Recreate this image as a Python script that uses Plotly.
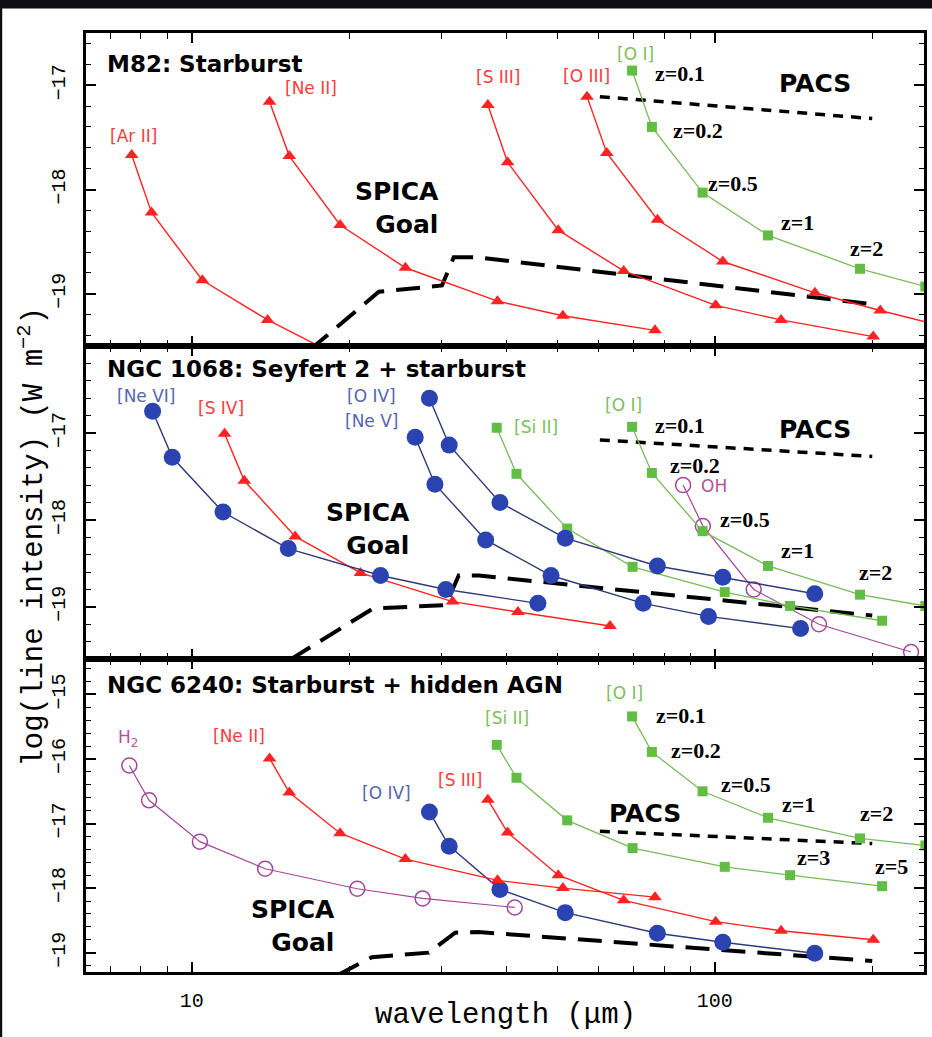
import numpy as np
import plotly.graph_objects as go
from plotly.subplots import make_subplots

# ---------------- data (wavelength in micron, log line intensity) ----------------
# Panel 1: M82
m82_ar2_x = [7.68, 8.38, 10.48, 13.97, 20.96, 27.94, 41.91]
m82_ar2_y = [-17.67, -18.22, -18.87, -19.25, -19.70, -19.95, -20.25]
m82_ne2_x = [14.09, 15.37, 19.22, 25.62, 38.43, 51.24, 76.86]
m82_ne2_y = [-17.16, -17.68, -18.34, -18.75, -19.07, -19.21, -19.35]
m82_s3_x = [36.83, 40.18, 50.22, 66.96, 100.4, 133.9, 200.9]
m82_s3_y = [-17.19, -17.74, -18.39, -18.78, -19.11, -19.25, -19.41]
m82_o3_x = [56.99, 62.17, 77.72, 103.6, 155.4, 207.2, 310.9]
m82_o3_y = [-17.11, -17.65, -18.29, -18.69, -18.99, -19.16, -19.38]
m82_o1_x = [69.50, 75.82, 94.77, 126.4, 189.5, 252.7]
m82_o1_y = [-16.86, -17.40, -18.03, -18.44, -18.76, -18.93]
m82_spica_x = [16.8, 22.8, 30.1, 31.7, 35.3, 200.0]
m82_spica_y = [-19.54, -18.98, -18.92, -18.65, -18.65, -19.10]
m82_pacs_x = [60.3, 200.0]
m82_pacs_y = [-17.11, -17.32]

# Panel 2: NGC 1068
n1068_ne6_x = [8.42, 9.18, 11.48, 15.30, 22.96, 30.61, 45.91]
n1068_ne6_y = [-16.75, -17.28, -17.91, -18.33, -18.64, -18.80, -18.96]
n1068_s4_x = [11.56, 12.61, 15.77, 21.02, 31.53, 42.04, 63.06]
n1068_s4_y = [-17.01, -17.55, -18.19, -18.61, -18.94, -19.06, -19.22]
n1068_ne5_x = [26.75, 29.18, 36.48, 48.64, 72.96, 97.28, 145.9]
n1068_ne5_y = [-17.05, -17.59, -18.23, -18.64, -18.96, -19.11, -19.25]
n1068_o4_x = [28.48, 31.07, 38.84, 51.78, 77.67, 103.6, 155.3]
n1068_o4_y = [-16.60, -17.14, -17.80, -18.21, -18.53, -18.66, -18.85]
n1068_si2_x = [38.30, 41.78, 52.23, 69.64, 104.5, 139.3, 208.9]
n1068_si2_y = [-16.94, -17.47, -18.10, -18.54, -18.83, -18.99, -19.16]
n1068_o1_x = [69.50, 75.82, 94.77, 126.4, 189.5, 252.7]
n1068_o1_y = [-16.93, -17.46, -18.13, -18.53, -18.86, -18.99]
n1068_oh_x = [87.0, 94.9, 118.7, 158.2, 237.3]
n1068_oh_y = [-17.60, -18.07, -18.80, -19.20, -19.52]
n1068_spica_x = [15.4, 22.2, 30.6, 32.4, 35.4, 200.0]
n1068_spica_y = [-19.61, -19.02, -18.98, -18.64, -18.64, -19.10]
n1068_pacs_x = [60.3, 200.0]
n1068_pacs_y = [-17.08, -17.27]

# Panel 3: NGC 6240
n6240_h2_x = [7.60, 8.29, 10.37, 13.82, 20.73, 27.64, 41.46]
n6240_h2_y = [-16.10, -16.64, -17.28, -17.70, -18.01, -18.16, -18.30]
n6240_ne2_x = [14.09, 15.37, 19.22, 25.62, 38.43, 51.24, 76.86]
n6240_ne2_y = [-15.99, -16.52, -17.15, -17.55, -17.88, -18.00, -18.14]
n6240_s3_x = [36.83, 40.18, 50.22, 66.96, 100.4, 133.9, 200.9]
n6240_s3_y = [-16.63, -17.14, -17.80, -18.19, -18.52, -18.66, -18.80]
n6240_o4_x = [28.48, 31.07, 38.84, 51.78, 77.67, 103.6, 155.3]
n6240_o4_y = [-16.82, -17.35, -18.02, -18.38, -18.70, -18.84, -19.01]
n6240_si2_x = [38.30, 41.78, 52.23, 69.64, 104.5, 139.3, 208.9]
n6240_si2_y = [-15.78, -16.29, -16.95, -17.38, -17.67, -17.80, -17.97]
n6240_o1_x = [69.50, 75.82, 94.77, 126.4, 189.5, 252.7]
n6240_o1_y = [-15.34, -15.89, -16.50, -16.91, -17.23, -17.34]
n6240_spica_x = [19.0, 22.1, 28.4, 31.9, 35.3, 200.0]
n6240_spica_y = [-19.35, -19.07, -19.00, -18.69, -18.68, -19.13]
n6240_pacs_x = [60.3, 200.0]
n6240_pacs_y = [-17.12, -17.31]

x_major_ticks = [10, 100]
x_major_labels = ["10", "100"]
x_minor_ticks = [7, 8, 9, 20, 30, 40, 50, 60, 70, 80, 90, 200]

# ---------------- styles ----------------
RED = "#ff2222"
BLUE = "#2a43b0"
BLUE_LINE = "#2e3a78"
GREEN = "#62bd44"
GREEN_LINE = "#78bb5a"
PURPLE = "#a4479c"

STYLE = {
    "red": dict(mode="lines+markers", line=dict(color=RED, width=1.4),
                marker=dict(symbol="triangle-up", size=12, color=RED)),
    "blue": dict(mode="lines+markers", line=dict(color=BLUE_LINE, width=1.4),
                 marker=dict(symbol="circle", size=17, color=BLUE)),
    "green": dict(mode="lines+markers", line=dict(color=GREEN_LINE, width=1.3),
                  marker=dict(symbol="square", size=10, color=GREEN)),
    "purple": dict(mode="lines+markers", line=dict(color=PURPLE, width=1.2),
                   marker=dict(symbol="circle-open", size=15, color=PURPLE,
                               line=dict(width=1.5, color=PURPLE))),
    "spica": dict(mode="lines", line=dict(color="black", width=4, dash="24px,12px")),
    "pacs": dict(mode="lines", line=dict(color="black", width=3.5, dash="10px,8px")),
}

fig = make_subplots(rows=3, cols=1, shared_xaxes=True, vertical_spacing=0)

def add(x, y, row, kind):
    fig.add_trace(go.Scatter(x=x, y=y, showlegend=False, hoverinfo="skip",
                             **STYLE[kind]), row=row, col=1)

# Panel 1
add(m82_spica_x, m82_spica_y, 1, "spica")
add(m82_pacs_x, m82_pacs_y, 1, "pacs")
add(m82_ar2_x, m82_ar2_y, 1, "red")
add(m82_ne2_x, m82_ne2_y, 1, "red")
add(m82_s3_x, m82_s3_y, 1, "red")
add(m82_o3_x, m82_o3_y, 1, "red")
add(m82_o1_x, m82_o1_y, 1, "green")

# Panel 2
add(n1068_spica_x, n1068_spica_y, 2, "spica")
add(n1068_pacs_x, n1068_pacs_y, 2, "pacs")
add(n1068_oh_x, n1068_oh_y, 2, "purple")
add(n1068_s4_x, n1068_s4_y, 2, "red")
add(n1068_si2_x, n1068_si2_y, 2, "green")
add(n1068_o1_x, n1068_o1_y, 2, "green")
add(n1068_ne6_x, n1068_ne6_y, 2, "blue")
add(n1068_ne5_x, n1068_ne5_y, 2, "blue")
add(n1068_o4_x, n1068_o4_y, 2, "blue")

# Panel 3
add(n6240_spica_x, n6240_spica_y, 3, "spica")
add(n6240_pacs_x, n6240_pacs_y, 3, "pacs")
add(n6240_h2_x, n6240_h2_y, 3, "purple")
add(n6240_si2_x, n6240_si2_y, 3, "green")
add(n6240_o1_x, n6240_o1_y, 3, "green")
add(n6240_o4_x, n6240_o4_y, 3, "blue")
add(n6240_ne2_x, n6240_ne2_y, 3, "red")
add(n6240_s3_x, n6240_s3_y, 3, "red")

# ---------------- axes ----------------
TICKFONT = dict(family="Liberation Mono", size=20, color="black")
for i in (1, 2, 3):
    fig.update_xaxes(
        type="log", range=[0.798, 2.4], showline=True, linecolor="black", linewidth=2.5,
        mirror="ticks", ticks="inside", ticklen=10, tickwidth=1.5, tickcolor="black",
        tickvals=x_major_ticks, ticktext=x_major_labels, showgrid=False, zeroline=False,
        minor=dict(tickvals=x_minor_ticks, ticks="inside", ticklen=6, tickwidth=1.3,
                   tickcolor="black", showgrid=False),
        tickfont=TICKFONT, showticklabels=(i == 3), ticklabelstandoff=8,
        row=i, col=1)

y_ranges = {1: [-19.5, -16.5], 2: [-19.6, -16.0], 3: [-19.3, -14.45]}
y_majors = {1: [-19, -18, -17], 2: [-19, -18, -17], 3: [-19, -18, -17, -16, -15]}
for i in (1, 2, 3):
    lo, hi = y_ranges[i]
    minors = [v for v in np.round(np.arange(-20, -14, 0.2), 1)
              if lo < v < hi and abs(v - round(v)) > 1e-6]
    fig.update_yaxes(
        range=y_ranges[i], showline=True, linecolor="black", linewidth=2.5,
        mirror="ticks", ticks="inside", ticklen=10, tickwidth=1.5, tickcolor="black",
        tickvals=y_majors[i], ticktext=["\u2212%d" % abs(v) for v in y_majors[i]],
        tickangle=-90, tickfont=TICKFONT, showgrid=False, zeroline=False,
        minor=dict(tickvals=minors, ticks="inside", ticklen=5, tickwidth=1.2,
                   tickcolor="black", showgrid=False),
        ticklabelstandoff=10, row=i, col=1)

# ---------------- annotations ----------------
TITLE = dict(family="DejaVu Sans", size=23, color="black", weight="bold")
BIG = dict(family="DejaVu Sans", size=25, color="black", weight="bold")
ZF = dict(family="Liberation Serif", size=22, color="black", weight="bold")

def lab(col):
    return dict(family="DejaVu Sans", size=17, color=col)

LRED = "#ff3b3b"
LBLUE = "#5566b0"
LGREEN = "#7cbf5c"
LPURP = "#b0559e"

ann = [
    # panel 1
    ("M82: Starburst", 0.834, -16.80, 1, TITLE, "left"),
    ("[Ar II]", 0.888, -17.49, 1, lab(LRED), "center"),
    ("[Ne II]", 1.229, -17.03, 1, lab(LRED), "center"),
    ("[S III]", 1.587, -16.92, 1, lab(LRED), "center"),
    ("[O III]", 1.754, -16.91, 1, lab(LRED), "center"),
    ("[O I]", 1.848, -16.70, 1, lab(LGREEN), "center"),
    ("z=0.1", 1.933, -16.89, 1, ZF, "center"),
    ("z=0.2", 1.968, -17.43, 1, ZF, "center"),
    ("z=0.5", 2.034, -17.94, 1, ZF, "center"),
    ("z=1", 2.158, -18.32, 1, ZF, "center"),
    ("z=2", 2.291, -18.57, 1, ZF, "center"),
    ("PACS", 2.192, -16.98, 1, BIG, "center"),
    ("SPICA<br>Goal", 1.476, -18.18, 1, BIG, "right"),
    # panel 2
    ("NGC 1068: Seyfert 2 + starburst", 0.834, -16.26, 2, TITLE, "left"),
    ("[Ne VI]", 0.914, -16.57, 2, lab(LBLUE), "center"),
    ("[S IV]", 1.057, -16.71, 2, lab(LRED), "center"),
    ("[O IV]", 1.343, -16.57, 2, lab(LBLUE), "center"),
    ("[Ne V]", 1.343, -16.86, 2, lab(LBLUE), "center"),
    ("[Si II]", 1.659, -16.93, 2, lab(LGREEN), "center"),
    ("[O I]", 1.825, -16.68, 2, lab(LGREEN), "center"),
    ("OH", 1.998, -17.61, 2, lab(LPURP), "center"),
    ("z=0.1", 1.933, -16.92, 2, ZF, "center"),
    ("z=0.2", 1.962, -17.37, 2, ZF, "center"),
    ("z=0.5", 2.057, -18.00, 2, ZF, "center"),
    ("z=1", 2.158, -18.35, 2, ZF, "center"),
    ("z=2", 2.307, -18.60, 2, ZF, "center"),
    ("PACS", 2.192, -16.96, 2, BIG, "center"),
    ("SPICA<br>Goal", 1.421, -18.11, 2, BIG, "right"),
    # panel 3
    ("NGC 6240: Starburst + hidden AGN", 0.834, -14.86, 3, TITLE, "left"),
    ("H<sub>2</sub>", 0.878, -15.68, 3, lab(LPURP), "center"),
    ("[Ne II]", 1.091, -15.64, 3, lab(LRED), "center"),
    ("[O IV]", 1.373, -16.53, 3, lab(LBLUE), "center"),
    ("[S III]", 1.514, -16.32, 3, lab(LRED), "center"),
    ("[Si II]", 1.602, -15.36, 3, lab(LGREEN), "center"),
    ("[O I]", 1.827, -14.97, 3, lab(LGREEN), "center"),
    ("z=0.1", 1.935, -15.33, 3, ZF, "center"),
    ("z=0.2", 1.964, -15.86, 3, ZF, "center"),
    ("z=0.5", 2.059, -16.39, 3, ZF, "center"),
    ("z=1", 2.160, -16.71, 3, ZF, "center"),
    ("z=2", 2.309, -16.84, 3, ZF, "center"),
    ("z=3", 2.189, -17.52, 3, ZF, "center"),
    ("z=5", 2.337, -17.67, 3, ZF, "center"),
    ("PACS", 1.867, -16.84, 3, BIG, "center"),
    ("SPICA<br>Goal", 1.278, -18.59, 3, BIG, "right"),
]

refs = {1: ("x", "y"), 2: ("x2", "y2"), 3: ("x3", "y3")}
for text, lx, yv, p, font, anchor in ann:
    xr, yr = refs[p]
    fig.add_annotation(text=text, x=lx, y=yv, xref=xr, yref=yr, showarrow=False,
                       font=font, xanchor=anchor, yanchor="middle",
                       align="right" if anchor == "right" else "left")

# axis titles
fig.add_annotation(text="wavelength (\u03bcm)", x=0.5, y=-0.046, xref="paper", yref="paper",
                   showarrow=False, xanchor="center", yanchor="middle",
                   font=dict(family="Liberation Mono", size=29, color="black"))
fig.add_annotation(text="log(line intensity) (W m<sup>\u22122</sup>)", x=-0.064, y=0.463,
                   xref="paper", yref="paper", showarrow=False, textangle=-90,
                   xanchor="center", yanchor="middle",
                   font=dict(family="Liberation Mono", size=29, color="black"))

# dark frame remnants of the scanned figure
fig.add_shape(type="rect", xref="paper", yref="paper", x0=-0.11, x1=1.01, y0=1.026, y1=1.05,
              fillcolor="#0d0d12", line=dict(width=0), layer="above")
fig.add_shape(type="rect", xref="paper", yref="paper", x0=-0.11, x1=-0.1, y0=-0.08, y1=1.05,
              fillcolor="#0d0d12", line=dict(width=0), layer="above")

fig.update_layout(
    width=932, height=1037,
    margin=dict(l=86, r=5, t=33, b=65),
    paper_bgcolor="white", plot_bgcolor="white",
    showlegend=False,
)

fig.write_html("out.html")
